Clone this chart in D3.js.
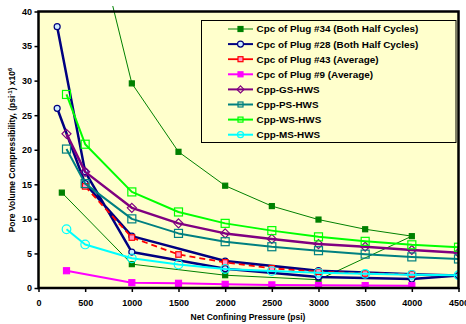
<!DOCTYPE html>
<html>
<head>
<meta charset="utf-8">
<script src="https://cdn.jsdelivr.net/npm/d3@7"></script>
<style>
  body { margin: 0; background: #fff; }
  svg { display: block; font-family: "Liberation Sans", Arial, sans-serif; }
</style>
</head>
<body>
<svg id="chart" width="466" height="324"></svg>
<script>
// pressures (psi) used by the HWS model curves
const hwsPressure = [300, 500, 1000, 1500, 2000, 2500, 3000, 3500, 4000, 4500];
const gsHws = [22.3, 16.8, 11.6, 9.35, 7.9, 7.1, 6.35, 5.97, 5.5, 5.1];
const psHws = [20.1, 15.1, 10.0, 7.9, 6.7, 5.97, 5.4, 4.9, 4.5, 4.2];
const wsHws = [28.0, 20.8, 13.9, 11.0, 9.35, 8.3, 7.4, 6.75, 6.25, 5.9];
const msHws = [8.5, 6.3, 4.3, 3.4, 2.75, 2.45, 2.2, 2.05, 1.9, 1.85];

// measured plugs (loading then unloading where both half cycles)
const plug34Pressure = [250, 1000, 2000, 3000, 4000, 3500, 3000, 2500, 2000, 1500, 1000, 500];
const plug34 = [13.8, 3.45, 1.85, 1.2, 7.5, 8.5, 9.9, 11.85, 14.8, 19.7, 29.6, 57];
const plug28Pressure = [200, 500, 1000, 2000, 3000, 4000, 4500, 4000, 3000, 2000, 1000, 500, 200];
const plug28 = [37.8, 16.8, 5.2, 2.8, 1.6, 1.3, 1.8, 2.0, 2.5, 3.9, 7.5, 15.1, 26.0];
const plug43Pressure = [500, 1000, 1500, 2000, 2500, 3000, 3500, 4000];
const plug43 = [14.7, 7.3, 4.85, 3.7, 2.85, 2.35, 2.1, 2.0];
const plug9Pressure = [300, 1000, 1500, 2000, 2500, 3000, 3500, 4000];
const plug9 = [2.5, 0.77, 0.68, 0.53, 0.45, 0.38, 0.35, 0.33];

const xTicks = [0, 500, 1000, 1500, 2000, 2500, 3000, 3500, 4000, 4500];
const yTicks = [0, 5, 10, 15, 20, 25, 30, 35, 40];

const zip = (xs, ys) => xs.map((p, i) => [p, ys[i]]);

const series = [
  { name: "Cpc of Plug #34 (Both Half Cycles)", pts: zip(plug34Pressure, plug34),
    color: "#008000", width: 1, dash: null, marker: "square", size: 5, fill: "#008000" },
  { name: "Cpc of Plug #28 (Both Half Cycles)", pts: zip(plug28Pressure, plug28),
    color: "#000080", width: 2.5, dash: null, marker: "circle", size: 3, fill: "#CCECFF" },
  { name: "Cpc of Plug #43 (Average)", pts: zip(plug43Pressure, plug43),
    color: "#FF0000", width: 1.8, dash: "6,4", marker: "square", size: 5.5, fill: "#FF99CC" },
  { name: "Cpc of Plug #9 (Average)", pts: zip(plug9Pressure, plug9),
    color: "#FF00FF", width: 2, dash: null, marker: "square", size: 6, fill: "#FF00FF" },
  { name: "Cpp-GS-HWS", pts: zip(hwsPressure, gsHws),
    color: "#800080", width: 2.5, dash: null, marker: "diamond", size: 4.5, fill: "none" },
  { name: "Cpp-PS-HWS", pts: zip(hwsPressure, psHws),
    color: "#008080", width: 2, dash: null, marker: "square", size: 8, fill: "none" },
  { name: "Cpp-WS-HWS", pts: zip(hwsPressure, wsHws),
    color: "#00FF00", width: 2, dash: null, marker: "square", size: 8, fill: "none" },
  { name: "Cpp-MS-HWS", pts: zip(hwsPressure, msHws),
    color: "#00FFFF", width: 2, dash: null, marker: "circle", size: 4.3, fill: "none" }
];

const svg = d3.select("#chart");
const x = d3.scaleLinear().domain([0, 4500]).range([38.5, 458.5]);
const y = d3.scaleLinear().domain([0, 40]).range([288, 11.5]);

// plot area
svg.append("rect")
  .attr("x", x(0)).attr("y", y(40))
  .attr("width", x(4500) - x(0)).attr("height", y(0) - y(40))
  .attr("fill", "#FFFFCC");

svg.append("defs").append("clipPath").attr("id", "clip")
  .append("rect")
  .attr("x", x(0)).attr("y", 6)
  .attr("width", x(4500) - x(0)).attr("height", y(0) - 6);

// axes
const xAxis = svg.append("g")
  .attr("transform", `translate(0,${y(0)})`)
  .call(d3.axisBottom(x).tickValues(xTicks).tickSize(4).tickFormat(d3.format("d")));
const yAxis = svg.append("g")
  .attr("transform", `translate(${x(0)},0)`)
  .call(d3.axisLeft(y).tickValues(yTicks).tickSize(4));

[xAxis, yAxis].forEach(a => {
  a.select(".domain").remove();
  a.selectAll("line").attr("stroke", "#000").attr("stroke-width", 1.5);
  a.selectAll("text")
    .attr("font-size", 9).attr("font-weight", "bold")
    .attr("font-family", "Liberation Sans, Arial, sans-serif").attr("fill", "#000");
});
xAxis.selectAll("text").attr("dy", "1.25em");
yAxis.selectAll("text").attr("x", -6.5);

function drawMarker(g, s, cx, cy) {
  let m;
  if (s.marker === "circle") {
    m = g.append("circle").attr("cx", cx).attr("cy", cy).attr("r", s.size);
  } else if (s.marker === "diamond") {
    const r = s.size;
    m = g.append("path")
      .attr("d", `M${cx},${cy - r}L${cx + r},${cy}L${cx},${cy + r}L${cx - r},${cy}Z`);
  } else {
    m = g.append("rect")
      .attr("x", cx - s.size / 2).attr("y", cy - s.size / 2)
      .attr("width", s.size).attr("height", s.size);
  }
  m.attr("fill", s.fill).attr("stroke", s.color).attr("stroke-width", 1.2);
}

const line = d3.line().x(d => x(d[0])).y(d => y(d[1]));
const plot = svg.append("g").attr("clip-path", "url(#clip)");

series.forEach(s => {
  const g = plot.append("g");
  g.append("path")
    .datum(s.pts)
    .attr("d", line)
    .attr("fill", "none")
    .attr("stroke", s.color)
    .attr("stroke-width", s.width)
    .attr("stroke-dasharray", s.dash)
    .attr("stroke-linejoin", "round");
  s.pts.forEach(p => {
    if (p[1] <= 40) drawMarker(g, s, x(p[0]), y(p[1]));
  });
});

// frame
svg.append("rect")
  .attr("x", x(0)).attr("y", y(40))
  .attr("width", x(4500) - x(0)).attr("height", y(0) - y(40))
  .attr("fill", "none").attr("stroke", "#000").attr("stroke-width", 2.5);

// legend
const legend = svg.append("g");
legend.append("rect")
  .attr("x", 201.5).attr("y", 20.5).attr("width", 254.5).attr("height", 122)
  .attr("fill", "#FFFFCC").attr("stroke", "#000").attr("stroke-width", 1);

series.forEach((s, i) => {
  const ly = 29 + i * 15.1;
  legend.append("line")
    .attr("x1", 228).attr("x2", 253).attr("y1", ly).attr("y2", ly)
    .attr("stroke", s.color).attr("stroke-width", Math.min(s.width, 2));
  drawMarker(legend, Object.assign({}, s, { size: s.marker === "circle" ? 3 : (s.marker === "diamond" ? 3.5 : 5) }), 240.5, ly);
  legend.append("text")
    .attr("x", 256.5).attr("y", ly).attr("dy", "0.35em")
    .attr("font-size", 9.9).attr("font-weight", "bold")
    .text(s.name);
});

// axis titles
svg.append("text")
  .attr("x", 248).attr("y", 320)
  .attr("text-anchor", "middle")
  .attr("font-size", 8.5).attr("font-weight", "bold")
  .text("Net Confining Pressure (psi)");

const yt = svg.append("text")
  .attr("transform", "translate(15,150) rotate(-90)")
  .attr("text-anchor", "middle")
  .attr("font-size", 8.5).attr("font-weight", "bold");
yt.append("tspan").text("Pore Volume Compressibility, (psi");
yt.append("tspan").attr("font-size", 6).attr("dy", -3.5).text("-1");
yt.append("tspan").attr("dy", 3.5).text(") x10");
yt.append("tspan").attr("font-size", 6).attr("dy", -3.5).text("6");
</script>
</body>
</html>
